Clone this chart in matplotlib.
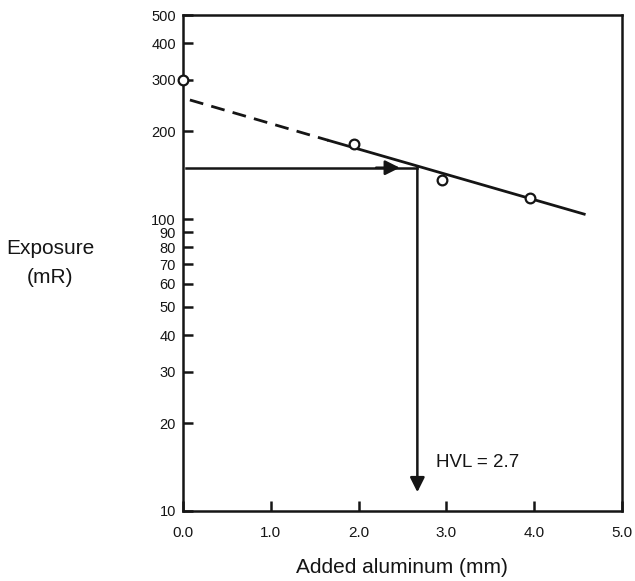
import matplotlib.pyplot as plt

plt.rcParams['font.family'] = ['Liberation Sans', 'DejaVu Sans']

# measured points
added_al = [0.0, 1.95, 2.95, 3.95]
exposure = [300, 181, 136, 118]

# fitted line: dashed part then solid part
fit_dash_x = [0.08, 1.66]
fit_dash_y = [256, 186]
fit_solid_x = [1.66, 4.57]
fit_solid_y = [186, 104]

half_exposure = 150
hvl = 2.67
hvl_arrow_start_x = 0.03
hvl_arrow_end_y = 11.6

y_ticks = [10, 20, 30, 40, 50, 60, 70, 80, 90, 100, 200, 300, 400, 500]
x_ticks = [0.0, 1.0, 2.0, 3.0, 4.0, 5.0]

ink = '#151515'

fig = plt.figure(figsize=(6.35, 5.81), dpi=100)
ax = fig.add_axes([0.288, 0.1205, 0.6915, 0.8535])

ax.set_yscale('log')
ax.set_xlim(0, 5)
ax.set_ylim(10, 500)

ax.plot(fit_dash_x, fit_dash_y, color=ink, lw=2, ls=(0, (5, 3)))
ax.plot(fit_solid_x, fit_solid_y, color=ink, lw=2)
ax.plot(added_al, exposure, 'o', ms=7, mfc='white', mec=ink, mew=1.6,
        clip_on=False, zorder=5)

# horizontal arrow to the fit line
ax.plot([hvl_arrow_start_x, hvl], [half_exposure, half_exposure], color=ink, lw=1.8)
ax.annotate('', xy=(2.47, half_exposure), xytext=(2.2, half_exposure),
            arrowprops=dict(arrowstyle='-|>', color=ink, lw=1.8,
                            mutation_scale=22, shrinkA=0, shrinkB=0))
# vertical arrow down to the axis
ax.annotate('', xy=(hvl, hvl_arrow_end_y), xytext=(hvl, half_exposure),
            arrowprops=dict(arrowstyle='-|>', color=ink, lw=1.8,
                            mutation_scale=22, shrinkA=0, shrinkB=0))
ax.text(2.88, 14.7, 'HVL = 2.7', fontsize=13.5, color=ink, va='center', ha='left')

ax.set_yticks(y_ticks)
ax.set_yticklabels([str(v) for v in y_ticks])
ax.yaxis.set_minor_locator(plt.NullLocator())
ax.set_xticks(x_ticks)
ax.set_xticklabels([f'{v:.1f}' for v in x_ticks])
ax.tick_params(axis='both', direction='in', length=7, width=1.8, colors=ink, pad=5)
ax.tick_params(axis='y', labelsize=10.5)
ax.tick_params(axis='x', labelsize=11, pad=11)

for s in ax.spines.values():
    s.set_linewidth(1.8)
    s.set_color(ink)

ax.set_xlabel('Added aluminum (mm)', fontsize=15, color=ink, labelpad=13)
fig.text(0.079, 0.547, 'Exposure\n(mR)', fontsize=15, color=ink,
         ha='center', va='center', linespacing=1.7)

fig.savefig('out.png', dpi=100)
